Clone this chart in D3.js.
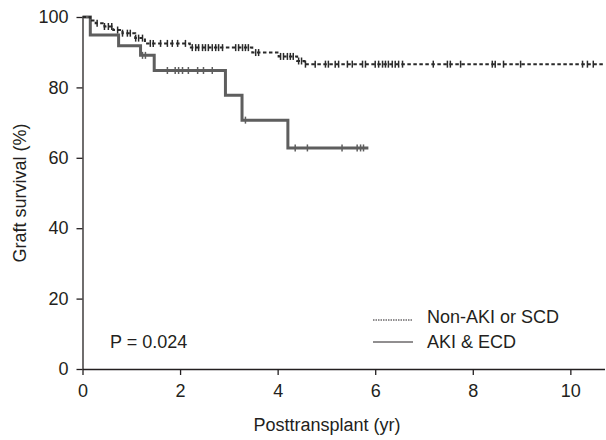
<!DOCTYPE html>
<html>
<head>
<meta charset="utf-8">
<script src="https://cdn.jsdelivr.net/npm/d3@7"></script>
<style>
  body { margin: 0; background: #fff; }
  text { font-family: "Liberation Sans", Arial, sans-serif; fill: #231f20; }
</style>
</head>
<body>
<script>
// step times (yr) and survival (%)
var nonAkiTimes = [0, 0.16, 0.27, 0.45, 0.63, 0.82, 1.08, 1.28, 2.2, 3.48, 4.02, 4.4, 4.55];
var nonAkiSurv  = [100, 99.0, 98.2, 97.3, 96.3, 95.4, 94.0, 92.5, 91.3, 89.9, 88.8, 87.5, 86.6];
var nonAkiEnd = 10.7;
var nonAkiCensor = [0.3, 0.45, 0.53, 0.6, 0.72, 0.82, 0.92, 0.98, 1.09, 1.15, 1.23, 1.39, 1.45,
  1.6, 1.74, 1.84, 1.95, 2.11, 2.25, 2.32, 2.38, 2.46, 2.52, 2.58, 2.66, 2.73, 2.79, 2.87,
  3.14, 3.2, 3.28, 3.34, 3.4, 3.55, 3.61, 4.06, 4.12, 4.2, 4.26, 4.32, 4.43, 4.49, 4.57,
  4.77, 4.98, 5.04, 5.18, 5.25, 5.43, 5.53, 5.74, 5.8, 6.0, 6.07, 6.15, 6.21, 6.27, 6.35,
  6.41, 6.48, 6.56, 7.19, 7.48, 7.54, 7.75, 8.4, 8.46, 8.63, 8.98, 10.25, 10.35, 10.47];

var akiTimes = [0, 0.16, 0.74, 1.19, 1.47, 2.93, 3.27, 4.21];
var akiSurv  = [100, 94.9, 91.8, 89.1, 84.8, 77.8, 70.7, 62.8];
var akiEnd = 5.86;
var akiCensor = [1.23, 1.29, 1.74, 1.9, 1.97, 2.05, 2.17, 2.36, 2.48, 2.66, 3.34,
  4.36, 4.61, 5.32, 5.63, 5.7, 5.76];

var xTicks = [0, 2, 4, 6, 8, 10];
var yTicks = [0, 20, 40, 60, 80, 100];
var legendLabels = ["Non-AKI or SCD", "AKI & ECD"];
var pText = "P = 0.024";

var width = 606, height = 440;
var svg = d3.select('body').append('svg').attr('width', width).attr('height', height);

var x = d3.scaleLinear().domain([0, 10.7]).range([82.5, 604.5]);
var y = d3.scaleLinear().domain([0, 100]).range([369, 17]);

function steps(times, surv, end) {
  var pts = times.map(function (t, i) { return [t, surv[i]]; });
  pts.push([end, surv[surv.length - 1]]);
  return pts;
}
function levelAt(times, surv, t) {
  var v = surv[0];
  for (var i = 0; i < times.length; i++) { if (times[i] <= t) v = surv[i]; }
  return v;
}

var line = d3.line()
  .x(function (d) { return x(d[0]); })
  .y(function (d) { return y(d[1]); })
  .curve(d3.curveStepAfter);

// axes
var xAxis = svg.append('g').attr('transform', 'translate(0,369)')
  .call(d3.axisBottom(x).tickValues(xTicks).tickSize(6).tickSizeOuter(0).tickFormat(d3.format('d')));
var yAxis = svg.append('g').attr('transform', 'translate(82.5,0)')
  .call(d3.axisLeft(y).tickValues(yTicks).tickSize(6).tickSizeOuter(0).tickFormat(d3.format('d')));
[xAxis, yAxis].forEach(function (g) {
  g.select('.domain').attr('stroke', '#231f20').attr('stroke-width', 1.3);
  g.selectAll('.tick line').attr('stroke', '#231f20').attr('stroke-width', 1.3);
  g.selectAll('.tick text').attr('font-size', 18).attr('font-family', '"Liberation Sans", Arial, sans-serif').attr('fill', '#231f20');
});
xAxis.selectAll('.tick text').attr('dy', '1.05em');
yAxis.selectAll('.tick text').attr('x', -14);

svg.append('text').attr('x', 327).attr('y', 431).attr('text-anchor', 'middle')
  .attr('font-size', 18).text('Posttransplant (yr)');
svg.append('text').attr('transform', 'translate(26,193) rotate(-90)').attr('text-anchor', 'middle')
  .attr('font-size', 18).text('Graft survival (%)');

// AKI & ECD curve
svg.append('path').datum(steps(akiTimes, akiSurv, akiEnd))
  .attr('d', line).attr('fill', 'none').attr('stroke', '#5e5e5e').attr('stroke-width', 3);
svg.selectAll('.aki-c').data(akiCensor).enter().append('line').attr('class', 'aki-c')
  .attr('x1', function (d) { return x(d); }).attr('x2', function (d) { return x(d); })
  .attr('y1', function (d) { return y(levelAt(akiTimes, akiSurv, d)) - 3.5; })
  .attr('y2', function (d) { return y(levelAt(akiTimes, akiSurv, d)) + 3.5; })
  .attr('stroke', '#5e5e5e').attr('stroke-width', 1.5);

// Non-AKI or SCD curve
svg.append('path').datum(steps(nonAkiTimes, nonAkiSurv, nonAkiEnd))
  .attr('d', line).attr('fill', 'none').attr('stroke', '#2a2a2a').attr('stroke-width', 2)
  .attr('stroke-dasharray', '3.5,2.5');
svg.selectAll('.non-c').data(nonAkiCensor).enter().append('line').attr('class', 'non-c')
  .attr('x1', function (d) { return x(d); }).attr('x2', function (d) { return x(d); })
  .attr('y1', function (d) { return y(levelAt(nonAkiTimes, nonAkiSurv, d)) - 3.5; })
  .attr('y2', function (d) { return y(levelAt(nonAkiTimes, nonAkiSurv, d)) + 3.5; })
  .attr('stroke', '#2a2a2a').attr('stroke-width', 1.5);

// legend
svg.append('line').attr('x1', 373).attr('x2', 413).attr('y1', 320).attr('y2', 320)
  .attr('stroke', '#231f20').attr('stroke-width', 1).attr('stroke-dasharray', '1.5,1');
svg.append('text').attr('x', 427).attr('y', 323).attr('font-size', 18).text(legendLabels[0]);
svg.append('line').attr('x1', 373).attr('x2', 413).attr('y1', 342).attr('y2', 342)
  .attr('stroke', '#231f20').attr('stroke-width', 1);
svg.append('text').attr('x', 427).attr('y', 348).attr('font-size', 18).text(legendLabels[1]);

svg.append('text').attr('x', 110).attr('y', 348).attr('font-size', 18).text(pText);
</script>
</body>
</html>
